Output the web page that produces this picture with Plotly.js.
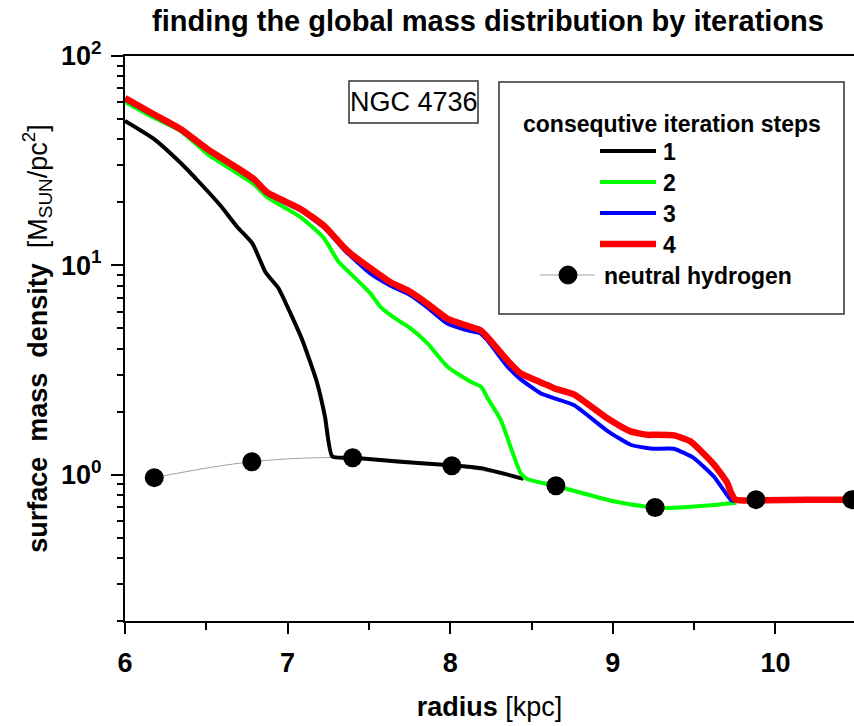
<!DOCTYPE html>
<html>
<head>
<meta charset="utf-8">
<script src="https://cdn.plot.ly/plotly-3.0.1.min.js"></script>
<style>html,body{margin:0;padding:0;background:#fff;}#chart{width:854px;height:726px;}</style>
</head>
<body>
<div id="chart"></div>
<script>
// ---- data ----
const radius1 = [6.0, 6.175, 6.341, 6.464, 6.587, 6.692, 6.784, 6.864, 6.944, 7.0, 7.09, 7.18, 7.23, 7.275, 7.405, 7.694, 8.0, 8.19, 8.45];
const step1   = [49.0, 40.3, 30.9, 24.6, 19.3, 15.2, 12.7, 9.27, 7.77, 6.31, 4.40, 2.77, 1.89, 1.22, 1.205, 1.153, 1.11, 1.075, 0.955];

const radius2 = [6.0, 6.175, 6.341, 6.507, 6.667, 6.79, 6.877, 7.079, 7.22, 7.313, 7.387, 7.45, 7.51, 7.571, 7.633, 7.694, 7.756, 7.86, 7.983, 8.125, 8.19, 8.23, 8.31, 8.432, 8.473, 8.658, 9.004, 9.213, 9.336, 9.582, 9.76];
const step2   = [60.4, 50.8, 43.9, 34.0, 28.3, 24.5, 21.1, 17.0, 13.6, 10.4, 9.13, 8.18, 7.33, 6.33, 5.78, 5.37, 5.0, 4.24, 3.28, 2.78, 2.63, 2.32, 1.83, 1.02, 0.954, 0.88, 0.746, 0.702, 0.694, 0.712, 0.735];

const radius3 = [6.0, 6.177, 6.341, 6.505, 6.669, 6.79, 6.874, 7.079, 7.222, 7.28, 7.346, 7.387, 7.51, 7.633, 7.756, 7.859, 7.982, 8.125, 8.186, 8.227, 8.35, 8.432, 8.555, 8.637, 8.76, 8.966, 9.109, 9.21, 9.252, 9.375, 9.498, 9.621, 9.724, 9.75];
const step3   = [62.0, 52.0, 44.2, 35.5, 29.5, 25.5, 22.0, 18.3, 15.2, 13.6, 11.9, 11.1, 9.13, 8.0, 7.2, 6.3, 5.28, 4.85, 4.73, 4.4, 3.3, 2.86, 2.45, 2.32, 2.15, 1.62, 1.39, 1.34, 1.33, 1.33, 1.20, 0.98, 0.76, 0.745];

const radius4 = [6.0, 6.177, 6.341, 6.505, 6.669, 6.79, 6.874, 7.079, 7.222, 7.28, 7.346, 7.387, 7.5, 7.633, 7.756, 7.859, 7.982, 8.125, 8.186, 8.227, 8.35, 8.432, 8.597, 8.637, 8.76, 8.966, 9.109, 9.21, 9.252, 9.375, 9.478, 9.621, 9.704, 9.724, 9.754, 9.929, 10.2, 10.483];
const step4   = [63.0, 52.7, 44.8, 36.0, 29.9, 25.9, 22.3, 18.6, 15.5, 13.9, 12.2, 11.4, 9.8, 8.3, 7.46, 6.57, 5.57, 5.08, 4.9, 4.56, 3.53, 3.05, 2.68, 2.59, 2.42, 1.86, 1.61, 1.55, 1.55, 1.54, 1.44, 1.12, 0.913, 0.83, 0.76, 0.754, 0.76, 0.76];

const radiusHI = [6.18, 6.78, 7.40, 8.01, 8.65, 9.26, 9.88, 10.47];
const sigmaHI  = [0.968, 1.153, 1.205, 1.104, 0.886, 0.697, 0.76, 0.76];

const xTickVals = [6, 7, 8, 9, 10];
const xTickText = ['6', '7', '8', '9', '10'];
const xMinorVals = [6.5, 7.5, 8.5, 9.5];
const yTickVals = [1, 10, 100];
const yTickText = ['10<sup>0</sup>', '10<sup>1</sup>', '10<sup>2</sup>'];
const yMinorVals = [0.2,0.3,0.4,0.5,0.6,0.7,0.8,0.9,2,3,4,5,6,7,8,9,20,30,40,50,60,70,80,90];

const stepNames = ['1', '2', '3', '4'];
const stepColors = ['#000000', '#00ff00', '#0000ff', '#ff0000'];

// ---- layout geometry (pixels) ----
const W = 854, H = 726;
const M = {l: 125, r: 0, t: 56, b: 105};
const PW = W - M.l - M.r, PH = H - M.t - M.b;
const px = x => (x - M.l) / PW;          // pixel -> paper x
const py = y => (H - M.b - y) / PH;      // pixel -> paper y
const FONT = 'Liberation Sans, Arial, Helvetica, sans-serif';

const traces = [
  {x: radiusHI, y: sigmaHI, mode: 'lines', line: {color: '#a0a0a0', width: 1, shape: 'spline', smoothing: 1}, name: 'neutral hydrogen line', showlegend: false, hoverinfo: 'skip'},
  {x: radius1, y: step1, mode: 'lines', line: {color: stepColors[0], width: 4, shape: 'spline', smoothing: 0.5}, name: stepNames[0], showlegend: false},
  {x: radius2, y: step2, mode: 'lines', line: {color: stepColors[1], width: 4, shape: 'spline', smoothing: 0.5}, name: stepNames[1], showlegend: false},
  {x: radius3, y: step3, mode: 'lines', line: {color: stepColors[2], width: 4, shape: 'spline', smoothing: 0.5}, name: stepNames[2], showlegend: false},
  {x: radius4, y: step4, mode: 'lines', line: {color: stepColors[3], width: 6.5, shape: 'spline', smoothing: 0.5}, name: stepNames[3], showlegend: false},
  {x: radiusHI, y: sigmaHI, mode: 'markers', marker: {color: '#000', size: 19}, name: 'neutral hydrogen', showlegend: false}
];

// manual legend + label box
const shapes = [];
const annotations = [];
// NGC box
shapes.push({type: 'rect', xref: 'paper', yref: 'paper', x0: px(349), x1: px(478), y0: py(123), y1: py(81), line: {color: '#333', width: 1.5}, fillcolor: '#fff', layer: 'above'});
annotations.push({xref: 'paper', yref: 'paper', x: px(413.5), y: py(102), text: 'NGC 4736', showarrow: false, xanchor: 'center', yanchor: 'middle', font: {family: FONT, size: 27, color: '#000'}});
// legend box
shapes.push({type: 'rect', xref: 'paper', yref: 'paper', x0: px(499), x1: px(844), y0: py(314), y1: py(82), line: {color: '#333', width: 1.5}, fillcolor: '#fff', layer: 'above'});
annotations.push({xref: 'paper', yref: 'paper', x: px(672), y: py(124), text: '<b>consequtive iteration steps</b>', showarrow: false, xanchor: 'center', yanchor: 'middle', font: {family: FONT, size: 23, color: '#000'}});
const legY = [151, 182, 213, 244];
const legW = [4, 4, 4, 6.5];
for (let i = 0; i < 4; i++) {
  shapes.push({type: 'line', xref: 'paper', yref: 'paper', x0: px(600), x1: px(656), y0: py(legY[i]), y1: py(legY[i]), line: {color: stepColors[i], width: legW[i]}, layer: 'above'});
  annotations.push({xref: 'paper', yref: 'paper', x: px(661), y: py(legY[i] + 1), text: '<b>' + stepNames[i] + '</b>', showarrow: false, xanchor: 'left', yanchor: 'middle', font: {family: FONT, size: 23, color: '#000'}});
}
shapes.push({type: 'line', xref: 'paper', yref: 'paper', x0: px(540), x1: px(595), y0: py(275), y1: py(275), line: {color: '#a0a0a0', width: 1}, layer: 'above'});
shapes.push({type: 'circle', xref: 'paper', yref: 'paper', x0: px(559), x1: px(577), y0: py(284), y1: py(266), line: {color: '#000', width: 1}, fillcolor: '#000', layer: 'above'});
annotations.push({xref: 'paper', yref: 'paper', x: px(602), y: py(276), text: '<b>neutral hydrogen</b>', showarrow: false, xanchor: 'left', yanchor: 'middle', font: {family: FONT, size: 23, color: '#000'}});

const layout = {
  width: W, height: H,
  margin: M,
  paper_bgcolor: '#fff', plot_bgcolor: '#fff',
  showlegend: false,
  font: {family: FONT, color: '#000'},
  title: {text: '<b>finding the global mass distribution by iterations</b>', font: {family: FONT, size: 29, color: '#000'}, x: px(488), xref: 'paper', xanchor: 'center', y: 1 - 21 / H, yref: 'container', yanchor: 'middle'},
  xaxis: {
    range: [6, 10.483], showgrid: false, zeroline: false,
    showline: true, linecolor: '#000', linewidth: 2, mirror: true,
    ticks: 'outside', ticklen: 11, tickwidth: 2, tickcolor: '#000',
    tickmode: 'array', tickvals: xTickVals, ticktext: xTickText,
    tickfont: {family: FONT, size: 27, color: '#000', weight: 'bold'},
    ticklabelstandoff: 6,
    minor: {tickmode: 'array', tickvals: xMinorVals, ticks: 'outside', ticklen: 7, tickwidth: 2, tickcolor: '#000', showgrid: false},
    title: {text: '<b>radius</b> [kpc]', font: {family: FONT, size: 27, color: '#000'}, standoff: 20}
  },
  yaxis: {
    type: 'log', range: [Math.log10(0.2), 2], showgrid: false, zeroline: false,
    showline: true, linecolor: '#000', linewidth: 2, mirror: false,
    ticks: 'outside', ticklen: 12, tickwidth: 2, tickcolor: '#000',
    tickmode: 'array', tickvals: yTickVals, ticktext: yTickText,
    tickfont: {family: FONT, size: 27, color: '#000', weight: 'bold'},
    ticklabelstandoff: 4,
    minor: {tickmode: 'array', tickvals: yMinorVals, ticks: 'outside', ticklen: 6, tickwidth: 2, tickcolor: '#000', showgrid: false},
    title: {text: '<b>surface\u00A0\u00A0mass\u00A0\u00A0density</b>\u00A0\u00A0[M<sub>SUN</sub>/pc<sup>2</sup>]', font: {family: FONT, size: 27, color: '#000'}, standoff: 6}
  },
  shapes: shapes,
  annotations: annotations
};

Plotly.newPlot('chart', traces, layout, {staticPlot: true, displayModeBar: false});
</script>
</body>
</html>
